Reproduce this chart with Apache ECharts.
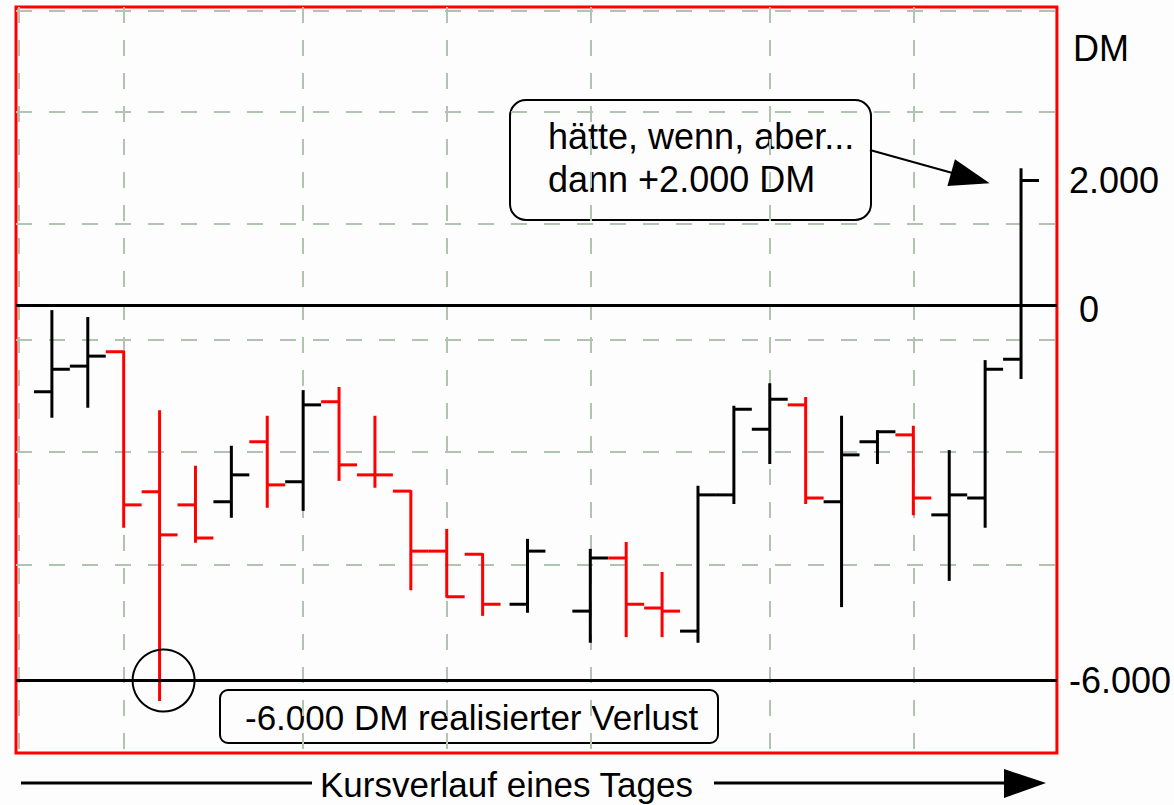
<!DOCTYPE html>
<html>
<head>
<meta charset="utf-8">
<script src="https://cdn.jsdelivr.net/npm/echarts@6/dist/echarts.min.js"></script>
<style>
  html, body { margin: 0; padding: 0; background: #fdfdfd; }
  #chart { width: 1174px; height: 805px; }
</style>
</head>
<body>
<div id="chart"></div>
<script>
// ---- data (DM, one OHLC bar per time slot; slot 14 has no bar) ----
const slots  = [0, 1, 2, 3, 4, 5, 6, 7, 8, 9, 10, 11, 12, 13.25, 15, 16, 17, 18, 19, 20, 21, 22, 23, 24, 25, 26, 27];
const opens  = [-1380, -970, -740, -2980, -3190, -3140, -2180, -2820, -1540, -2710, -2970, -3930, -3980, -4780, -4890, -4040, -4840, -5210, -3030, -1980, -1590, -3140, -2180, -2070, -3350, -3080, -860];
const closes = [-1020, -810, -3190, -3670, -3720, -2710, -2870, -1590, -2550, -2710, -3930, -4660, -4780, -3930, -4040, -4780, -4890, -3030, -1660, -1500, -3080, -2390, -2020, -3080, -3030, -1020, 2000];
const lows   = [-1780, -1620, -3540, -6310, -3780, -3380, -3220, -3270, -2790, -2900, -4540, -4660, -4950, -4900, -5380, -5290, -5290, -5380, -3160, -2520, -3160, -4810, -2520, -3340, -4390, -3540, -1160];
const highs  = [-90, -200, -740, -1690, -2580, -2260, -1780, -1370, -1320, -1780, -2970, -3590, -3980, -3750, -3910, -3800, -4280, -2900, -1620, -1260, -1480, -1780, -2010, -1940, -2330, -890, 2180];

const yTickValues = [2000, 0, -6000];
const refLines = [0, -6000];
const lossLevel = -6000;
const lossSlot = 3;

const unitLabel = 'DM';
const calloutLines = ['hätte, wenn, aber...', 'dann +2.000 DM'];
const lossText = '-6.000 DM realisierter Verlust';
const xTitle = 'Kursverlauf eines Tages';

// helper grid axes (decorative dashed grid of the original drawing)
const vGridCount = 349;                      // 12 steps per time slot, slot -1 .. 28
const vGridAt = [1, 36, 96, 144, 192, 252, 300];
const hGridCount = 187;
const hGridAt = [1, 26, 54, 83, 111, 139];

function fmtDE(v) {
  const s = Math.abs(v).toString().replace(/\B(?=(\d{3})+(?!\d))/g, '.');
  const t = (v < 0 ? '-' : '') + s;
  return v === 0 ? '{z|' + t + '}' : t;
}

const FONT = '"Liberation Sans", Arial, sans-serif';
const ohlc = slots.map((s, i) => [s, opens[i], closes[i], lows[i], highs[i]]);

const chart = echarts.init(document.getElementById('chart'), null, { renderer: 'svg' });

const option = {
  backgroundColor: '#fdfdfd',
  animation: false,
  grid: {
    left: 16, right: 113, top: 7, bottom: 52,
    show: true, borderColor: '#ff0000', borderWidth: 3, backgroundColor: 'transparent'
  },
  xAxis: [
    { type: 'value', min: -1, max: 28, show: false },
    {
      type: 'category', data: Array.from({ length: vGridCount }, (_, i) => String(i)),
      boundaryGap: false, position: 'bottom',
      axisLine: { show: false }, axisTick: { show: false }, axisLabel: { show: false },
      splitLine: {
        show: true, interval: (idx) => vGridAt.includes(idx),
        lineStyle: { color: '#b0c4b0', width: 2, type: [16, 17] }
      }
    }
  ],
  yAxis: [
    {
      type: 'value', min: -7160, max: 4776, position: 'right',
      axisLine: { show: false }, axisTick: { show: false }, splitLine: { show: false },
      axisLabel: {
        customValues: yTickValues, formatter: fmtDE, margin: 12,
        fontSize: 36, color: '#000', fontFamily: FONT,
        rich: { z: { fontSize: 36, color: '#000', fontFamily: FONT, padding: [8, 0, 0, 10] } }
      }
    },
    {
      type: 'category', data: Array.from({ length: hGridCount }, (_, i) => String(i)),
      inverse: true, boundaryGap: false, position: 'left',
      axisLine: { show: false }, axisTick: { show: false }, axisLabel: { show: false },
      splitLine: {
        show: true, interval: (idx) => hGridAt.includes(idx),
        lineStyle: { color: '#b0c4b0', width: 2, type: [16, 17] }
      }
    }
  ],
  series: [{
    type: 'custom',
    xAxisIndex: 0, yAxisIndex: 0,
    data: ohlc,
    encode: { x: 0, y: [1, 2, 3, 4] },
    renderItem: function (params, api) {
      const x = api.value(0), o = api.value(1), c = api.value(2), l = api.value(3), h = api.value(4);
      const pH = api.coord([x, h]), pL = api.coord([x, l]);
      const pO = api.coord([x, o]), pC = api.coord([x, c]);
      const half = api.size([1, 0])[0] / 2;
      const color = c > o ? '#000000' : '#ff0000';
      const style = { stroke: color, lineWidth: 3 };
      return {
        type: 'group',
        children: [
          { type: 'line', shape: { x1: pH[0], y1: pH[1] - 1, x2: pL[0], y2: pL[1] + 1 }, style: style },
          { type: 'line', shape: { x1: pO[0] - half, y1: pO[1], x2: pO[0], y2: pO[1] }, style: style },
          { type: 'line', shape: { x1: pC[0], y1: pC[1], x2: pC[0] + half, y2: pC[1] }, style: style }
        ]
      };
    },
    markLine: {
      silent: true, symbol: 'none', animation: false,
      label: { show: false },
      lineStyle: { color: '#000', width: 3, type: 'solid' },
      data: refLines.map(v => ({ yAxis: v })).concat([
        [
          { coord: [22.79, 2488], symbol: 'none' },
          { coord: [25.59, 2040], symbol: 'triangle', symbolSize: [28, 40], lineStyle: { width: 2, color: '#000' } }
        ]
      ])
    },
    markPoint: {
      silent: true, animation: false,
      symbol: 'circle', symbolSize: 62, symbolOffset: [4, 0],
      itemStyle: { color: 'rgba(0,0,0,0)', borderColor: '#000', borderWidth: 2 },
      label: { show: false },
      data: [{ coord: [lossSlot, lossLevel] }]
    }
  }],
  graphic: [
    {
      type: 'text', z: 50, x: 1073, y: 48,
      style: { text: unitLabel, font: '36px ' + FONT, fill: '#000', verticalAlign: 'middle' }
    },
    {
      type: 'group', z: 50,
      children: [
        { type: 'rect', shape: { x: 510, y: 100, width: 361, height: 120, r: 16 },
          style: { fill: '#fdfdfd', stroke: '#000', lineWidth: 2 } },
        { type: 'text', x: 548, y: 136, style: { text: calloutLines[0], font: '36px ' + FONT, fill: '#000', verticalAlign: 'middle' } },
        { type: 'text', x: 548, y: 179, style: { text: calloutLines[1], font: '36px ' + FONT, fill: '#000', verticalAlign: 'middle' } }
      ]
    },
    {
      type: 'group', z: 50,
      children: [
        { type: 'rect', shape: { x: 220, y: 690, width: 498, height: 53, r: 8 },
          style: { fill: '#fdfdfd', stroke: '#000', lineWidth: 2 } },
        { type: 'text', x: 245, y: 717, style: { text: lossText, font: '35px ' + FONT, fill: '#000', verticalAlign: 'middle' } }
      ]
    },
    {
      type: 'group', z: 50,
      children: [
        { type: 'line', shape: { x1: 21, y1: 783, x2: 312, y2: 783 }, style: { stroke: '#000', lineWidth: 3 } },
        { type: 'text', x: 320, y: 784, style: { text: xTitle, font: '35px ' + FONT, fill: '#000', verticalAlign: 'middle' } },
        { type: 'line', shape: { x1: 714, y1: 783, x2: 1010, y2: 783 }, style: { stroke: '#000', lineWidth: 3 } },
        { type: 'polygon', shape: { points: [[1004, 769], [1046, 783], [1004, 798]] }, style: { fill: '#000' } }
      ]
    }
  ]
};

chart.setOption(option);
</script>
</body>
</html>
